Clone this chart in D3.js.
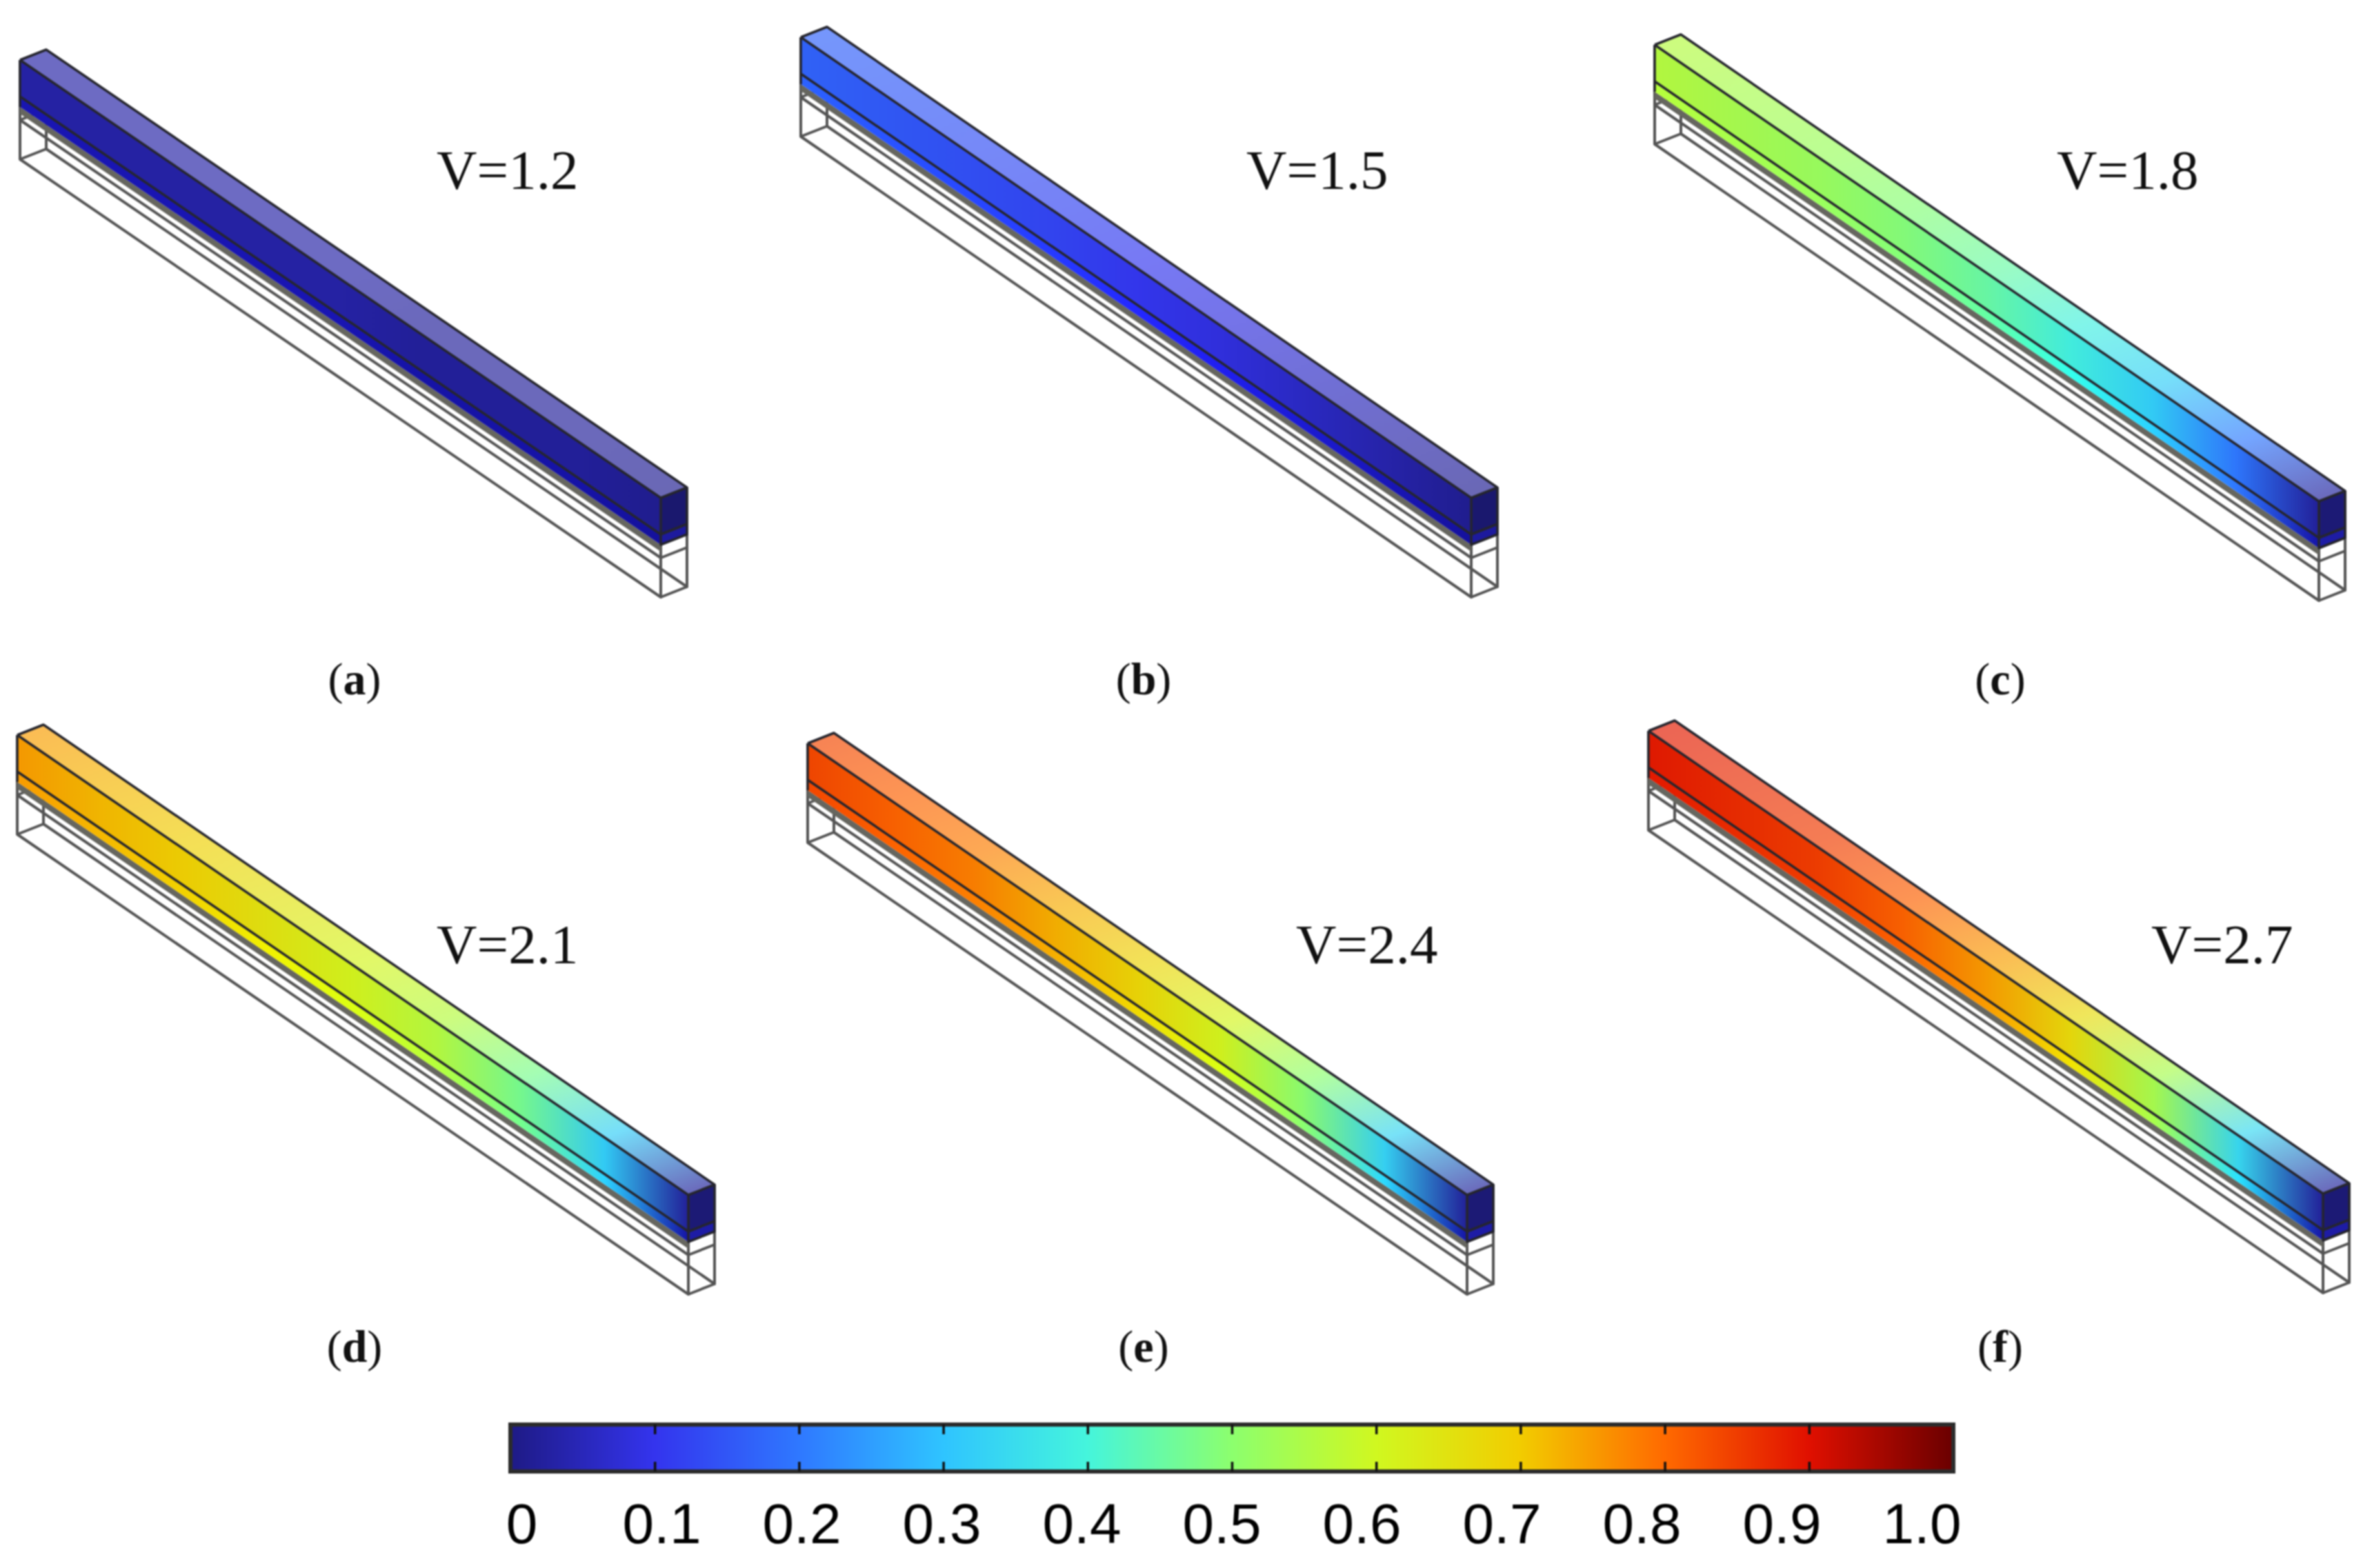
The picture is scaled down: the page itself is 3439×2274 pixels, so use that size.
<!DOCTYPE html>
<html>
<head>
<meta charset="utf-8">
<style>
    html, body { margin: 0; background: #fff; }
    svg { display: block; filter: blur(1.3px); }
    .volt { font-family: "Liberation Serif"; font-size: 81px; fill: #111; }
    .name { font-family: "Liberation Serif"; font-size: 66px; fill: #111; text-anchor: middle; }
    .name .letter { font-weight: bold; }
    .wire { fill: none; stroke: #555; stroke-width: 4; stroke-linejoin: round; }
    .edge { fill: none; stroke: #26262e; stroke-width: 3.5; stroke-linejoin: round; }
    .bar-labels text { font-family: "Liberation Sans"; font-size: 82px; fill: #000; }
    .bar-ticks line { stroke: #111; stroke-width: 3.5; }
</style>
</head>
<body>
<svg width="3439" height="2274"></svg>
<script src="https://d3js.org/d3.v7.min.js"></script>
<script>
// values
let panelNames = ["a", "b", "c", "d", "e", "f"]
let voltages = ["V=1.2", "V=1.5", "V=1.8", "V=2.1", "V=2.4", "V=2.7"]
let stations = [0, 0.125, 0.25, 0.375, 0.5, 0.625, 0.75, 0.875, 1]
let potentialA = [0.03, 0.03, 0.03, 0.03, 0.03, 0.02, 0.02, 0.02, 0.01]
let potentialB = [0.17, 0.155, 0.14, 0.125, 0.105, 0.085, 0.06, 0.035, 0.01]
let potentialC = [0.56, 0.54, 0.52, 0.49, 0.45, 0.39, 0.32, 0.2, 0.02]
let potentialD = [0.75, 0.72, 0.69, 0.65, 0.61, 0.56, 0.47, 0.32, 0.02]
let potentialE = [0.84, 0.81, 0.78, 0.73, 0.68, 0.61, 0.5, 0.33, 0.02]
let potentialF = [0.89, 0.87, 0.85, 0.81, 0.75, 0.67, 0.54, 0.34, 0.02]
let potentials = [potentialA, potentialB, potentialC, potentialD, potentialE, potentialF]

let colorValues = [0, 0.1, 0.2, 0.3, 0.4, 0.5, 0.6, 0.7, 0.8, 0.9, 1]
let colorRange = ["#1e1a85", "#3434ee", "#2f78ff", "#2fc4ff", "#45f5dc", "#8cff6e", "#d0f820", "#f2cc00", "#ff6a00", "#e01000", "#6a0000"]
let barTicks = [0.1, 0.2, 0.3, 0.4, 0.5, 0.6, 0.7, 0.8, 0.9]
let barLabels = ["0", "0.1", "0.2", "0.3", "0.4", "0.5", "0.6", "0.7", "0.8", "0.9", "1.0"]

// layout, pixels in the 3439x2274 frame: front top edge of each box
let boxes = [
    {x: [29, 958], y: [87, 722], vx: 633, vy: 274, nx: 514, ny: 1007},
    {x: [1161, 2133], y: [54, 722], vx: 1807, vy: 274, nx: 1658, ny: 1007},
    {x: [2399, 3362], y: [65, 727], vx: 2982, vy: 274, nx: 2900, ny: 1007},
    {x: [25, 998], y: [1066, 1733], vx: 633, vy: 1397, nx: 514, ny: 1975},
    {x: [1171, 2127], y: [1078, 1733], vx: 1879, vy: 1397, nx: 1658, ny: 1975},
    {x: [2390, 3368], y: [1060, 1731], vx: 3119, vy: 1397, nx: 2900, ny: 1975}
]
let depth = {x: 38, y: -15}
let level = {band: 53, color: 68, shadow: 78, mid: 87, bottom: 144}

let svg = d3.select("svg")
let defs = svg.append("defs")

let color = d3.scaleLinear().domain(colorValues).range(colorRange).clamp(true)
let line = d3.line()

function lighten(c, k) { return d3.interpolateRgb(c, "#ffffff")(k) }
function darken(c, k) { return d3.interpolateRgb(c, "#101030")(k) }
function vivid(c) {
    let h = d3.hsl(c)
    h.s = Math.min(1, h.s * 1.2)
    return h.formatRgb()
}

// gradient whose colour bands run parallel to `across`
function makeGradient(id, p0, along, across, values, tone) {
    let len = Math.hypot(across[0], across[1])
    let n = [across[1] / len, -across[0] / len]
    let dot = along[0] * n[0] + along[1] * n[1]
    let g = defs.append("linearGradient")
        .attr("id", id)
        .attr("gradientUnits", "userSpaceOnUse")
        .attr("x1", p0[0]).attr("y1", p0[1])
        .attr("x2", p0[0] + n[0] * dot).attr("y2", p0[1] + n[1] * dot)
    g.selectAll("stop").data(values).join("stop")
        .attr("offset", (d, i) => stations[i])
        .attr("stop-color", d => tone(color(d)))
    return `url(#${id})`
}

boxes.forEach((box, i) => {
    let values = potentials[i]
    let px = d3.scaleLinear().domain([0, 1]).range(box.x)
    let py = d3.scaleLinear().domain([0, 1]).range(box.y)
    let pt = (t, back, h) => [px(t) + back * depth.x, py(t) + back * depth.y + h]
    let quad = (a, b, c, d) => line([a, b, c, d]) + "Z"

    let g = svg.append("g").attr("class", "box")
    let along = [px(1) - px(0), py(1) - py(0)]

    // wireframe underneath
    let wires = [
        [pt(0, 0, 0), pt(0, 0, level.bottom), pt(1, 0, level.bottom), pt(1, 0, 0)],
        [pt(0, 1, 60), pt(0, 1, level.bottom), pt(1, 1, level.bottom), pt(1, 1, 0)],
        [pt(0, 0, level.bottom), pt(0, 1, level.bottom)],
        [pt(1, 0, level.bottom), pt(1, 1, level.bottom)],
        [pt(0, 0, level.mid), pt(1, 0, level.mid), pt(1, 1, level.mid)],
        [pt(0, 0, level.mid), pt(0, 1, level.mid)]
    ]
    g.selectAll(".wire").data(wires).join("path")
        .attr("class", "wire").attr("d", line)

    // shadow strip just below the coloured body
    g.append("path")
        .attr("d", quad(pt(0, 0, level.color), pt(1, 0, level.color), pt(1, 0, level.shadow), pt(0, 0, level.shadow)))
        .attr("fill", "#66665f")

    let frontFill = makeGradient(`front${i}`, pt(0, 0, 0), along, [0, 1], values, c => darken(c, 0.02))
    let bandFill = makeGradient(`band${i}`, pt(0, 0, 0), along, [0, 1], values, vivid)
    let topFill = makeGradient(`top${i}`, pt(0, 0, 0), along, [depth.x, depth.y], values, c => lighten(c, 0.33))

    g.append("path")
        .attr("d", quad(pt(0, 0, 0), pt(1, 0, 0), pt(1, 1, 0), pt(0, 1, 0)))
        .attr("fill", topFill)
    g.append("path")
        .attr("d", quad(pt(0, 0, 0), pt(1, 0, 0), pt(1, 0, level.band), pt(0, 0, level.band)))
        .attr("fill", frontFill)
    g.append("path")
        .attr("d", quad(pt(0, 0, level.band), pt(1, 0, level.band), pt(1, 0, level.color), pt(0, 0, level.color)))
        .attr("fill", bandFill)

    // far end of the box
    let endColor = color(values[values.length - 1])
    g.append("path")
        .attr("d", quad(pt(1, 0, 0), pt(1, 1, 0), pt(1, 1, level.band), pt(1, 0, level.band)))
        .attr("fill", darken(endColor, 0.35))
    g.append("path")
        .attr("d", quad(pt(1, 0, level.band), pt(1, 1, level.band), pt(1, 1, level.color), pt(1, 0, level.color)))
        .attr("fill", d3.interpolateRgb(endColor, "#1010d0")(0.2))

    let edges = [
        [pt(0, 0, 0), pt(0, 1, 0), pt(1, 1, 0), pt(1, 0, 0), pt(0, 0, 0)],
        [pt(0, 0, level.band), pt(1, 0, level.band), pt(1, 1, level.band)],
        [pt(1, 0, 0), pt(1, 0, level.color), pt(1, 1, level.color), pt(1, 1, 0)],
        [pt(0, 0, 0), pt(0, 0, level.color)]
    ]
    g.selectAll(".edge").data(edges).join("path")
        .attr("class", "edge").attr("d", line)

    svg.append("text").attr("class", "volt")
        .attr("x", box.vx).attr("y", box.vy).text(voltages[i])

    let name = svg.append("text").attr("class", "name")
        .attr("x", box.nx).attr("y", box.ny)
    name.append("tspan").text("(")
    name.append("tspan").attr("class", "letter").text(panelNames[i])
    name.append("tspan").text(")")
})

// colour bar
let barX = d3.scaleLinear().domain([0, 1]).range([740, 2832])
let labelX = d3.scaleLinear().domain([0, 1]).range([756, 2786])
let barTop = 2066, barBottom = 2134

let barGrad = defs.append("linearGradient").attr("id", "colorbar")
barGrad.selectAll("stop").data(colorValues).join("stop")
    .attr("offset", d => d)
    .attr("stop-color", d => color(d))

svg.append("rect")
    .attr("x", barX(0)).attr("y", barTop)
    .attr("width", barX(1) - barX(0)).attr("height", barBottom - barTop)
    .attr("fill", "url(#colorbar)")
    .attr("stroke", "#2c2c2c").attr("stroke-width", 6)

svg.append("g").attr("class", "bar-ticks")
    .attr("transform", `translate(0,${barTop})`)
    .call(d3.axisBottom(barX).tickValues(barTicks).tickSize(14).tickFormat(""))
    .call(g => g.select(".domain").remove())

svg.append("g").attr("class", "bar-ticks")
    .attr("transform", `translate(0,${barBottom})`)
    .call(d3.axisTop(barX).tickValues(barTicks).tickSize(14).tickFormat(""))
    .call(g => g.select(".domain").remove())

svg.append("g").attr("class", "bar-labels")
    .attr("transform", "translate(0,2178)")
    .call(d3.axisBottom(labelX).tickValues(colorValues).tickSize(0).tickPadding(2)
        .tickFormat((d, i) => barLabels[i]))
    .call(g => g.select(".domain").remove())
</script>
</body>
</html>
